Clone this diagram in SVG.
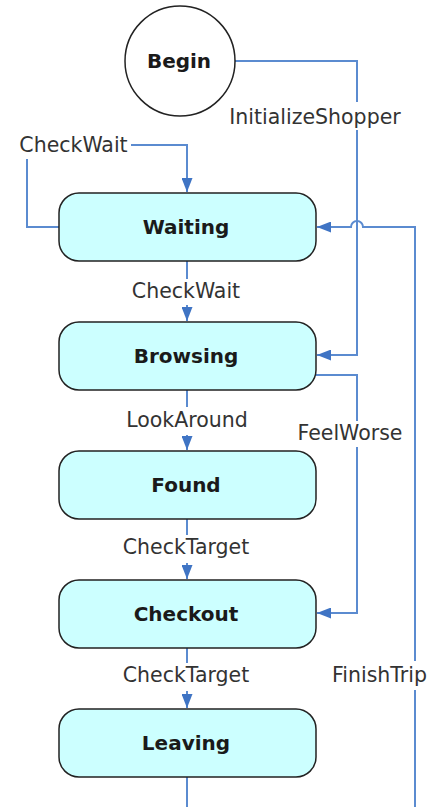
<svg xmlns="http://www.w3.org/2000/svg" width="436" height="807" viewBox="0 0 436 807">
<style>
.node{fill:#ccffff;stroke:#222;stroke-width:1.5}
.start{fill:#fff;stroke:#222;stroke-width:1.5}
.nt{font-family:"DejaVu Sans",sans-serif;font-weight:bold;font-size:20px;fill:#1a1a1a;text-anchor:middle}
.lt{font-family:"DejaVu Sans",sans-serif;font-size:20.5px;fill:#333;text-anchor:middle}
.c{fill:none;stroke:#5b8bd0;stroke-width:2}
.bg{fill:#fff}
</style>
<defs>
<marker id="ah" markerUnits="userSpaceOnUse" markerWidth="14" markerHeight="11" refX="14" refY="5.5" orient="auto">
<path d="M0,0 L14,5.5 L0,11 z" fill="#3f74c4"/>
</marker>
</defs>
<rect width="436" height="807" fill="#fff"/>
<g id="connectors">
<path class="c" d="M235,61 H357 V355 H317" marker-end="url(#ah)"/>
<path class="c" d="M59,227 H27 V145 H187 V192" marker-end="url(#ah)"/>
<path class="c" d="M187,261 V321" marker-end="url(#ah)"/>
<path class="c" d="M187,390 V450" marker-end="url(#ah)"/>
<path class="c" d="M187,519 V579" marker-end="url(#ah)"/>
<path class="c" d="M187,648 V708" marker-end="url(#ah)"/>
<path class="c" d="M187,777 V807"/>
<path class="c" d="M316,375 H357 V613 H317" marker-end="url(#ah)"/>
<path class="c" d="M415,807 V227 H363 A6,6 0 0 0 351,227 H317" marker-end="url(#ah)"/>
<rect class="bg" x="226" y="102" width="178" height="28"/>
<text class="lt" x="315" y="124">InitializeShopper</text>
<rect class="bg" x="15" y="132" width="116" height="27"/>
<text class="lt" x="73.5" y="152">CheckWait</text>
<rect class="bg" x="127" y="279" width="118" height="26"/>
<text class="lt" x="186" y="298">CheckWait</text>
<rect class="bg" x="122" y="407" width="130" height="28"/>
<text class="lt" x="187" y="427">LookAround</text>
<rect class="bg" x="290" y="421" width="119" height="26"/>
<text class="lt" x="350" y="440">FeelWorse</text>
<rect class="bg" x="116" y="535" width="140" height="28"/>
<text class="lt" x="186" y="554">CheckTarget</text>
<rect class="bg" x="116" y="663" width="140" height="28"/>
<text class="lt" x="186" y="682">CheckTarget</text>
<rect class="bg" x="330" y="661" width="106" height="29"/>
<text class="lt" x="332" y="682" style="text-anchor:start">FinishTrip</text>
</g>
<g id="Begin">
<circle class="start" cx="180" cy="61" r="55"/>
<text class="nt" x="179" y="68">Begin</text>
</g>
<g id="Waiting">
<rect class="node" x="59" y="193" width="257" height="68" rx="20"/>
<text class="nt" x="186" y="234">Waiting</text>
</g>
<g id="Browsing">
<rect class="node" x="59" y="322" width="257" height="68" rx="20"/>
<text class="nt" x="186" y="363">Browsing</text>
</g>
<g id="Found">
<rect class="node" x="59" y="451" width="257" height="68" rx="20"/>
<text class="nt" x="186" y="492">Found</text>
</g>
<g id="Checkout">
<rect class="node" x="59" y="580" width="257" height="68" rx="20"/>
<text class="nt" x="186" y="621">Checkout</text>
</g>
<g id="Leaving">
<rect class="node" x="59" y="709" width="257" height="68" rx="20"/>
<text class="nt" x="186" y="750">Leaving</text>
</g>
</svg>
